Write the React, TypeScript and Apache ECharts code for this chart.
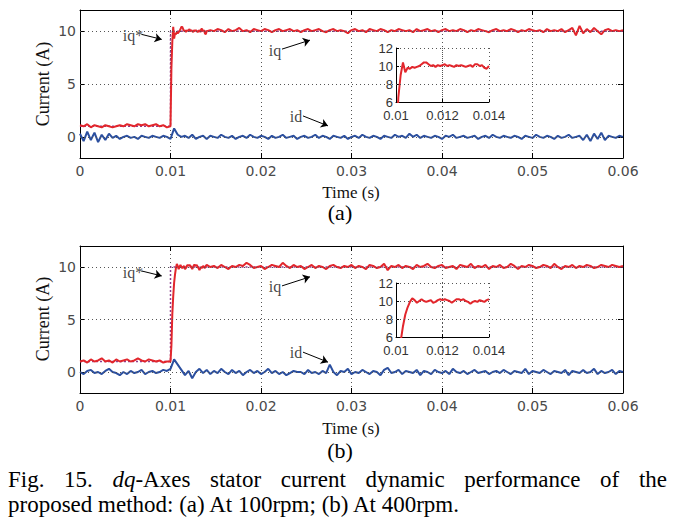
import React, { useEffect, useRef } from 'react';
import * as echarts from 'echarts';

// ---------- data ----------
const STEP = 0.0004;        // main sampling step (s)
const ZOOM_STEP = 0.0001;   // sampling step in the transient window (s)
const STEP_TIME = 0.01;     // time of the reference step
const POST_START = 36;      // index (in STEP units) where coarse samples resume (0.0144 s)

const yTicksMain = [0, 5, 10];

// reference iq* (step)
const refTimes = [0, 0.01, 0.01, 0.06];
const refValuesA = [1, 1, 10, 10];
const refValuesB = [1, 1, 10, 10];

// ---- (a) 100 rpm ----
const iqA_pre = [1.1, 1.0, 1.2, 0.9, 1.1, 1.0, 0.9, 1.1, 1.0, 0.9, 1.0, 1.1, 1.0, 1.2, 1.1, 1.0, 1.2, 1.1, 1.2, 1.0, 1.1, 1.2, 1.0, 1.1, 0.9];
const iqA_zoom = [1.0, 6.5, 9.0, 10.4, 9.3, 9.8, 9.7, 9.9, 9.8, 9.9,
  10.0, 10.2, 10.4, 10.4, 10.2, 10.0, 10.1, 9.9, 10.1, 10.0,
  10.1, 10.2, 10.0, 10.1, 10.0, 9.9, 10.1, 10.0, 10.1, 10.0,
  9.9, 10.0, 10.1, 9.9, 10.2, 10.2, 10.0, 10.1, 9.8, 9.7, 10.0];
const iqA_post = [
  10.1, 10.0, 10.2, 10.1, 9.9, 10.2, 10.0, 10.1, 10.3, 10.0,
  10.1, 9.9, 10.2, 10.1, 10.0, 10.2, 10.1, 9.9, 10.1, 10.2,
  10.0, 10.1, 10.2, 10.0, 10.1, 9.9, 10.1, 10.2, 10.0, 10.1,
  10.2, 10.0, 9.9, 10.1, 10.2, 10.0, 10.1, 10.0, 9.8, 10.1,
  10.2, 10.0, 10.1, 9.9, 10.2, 10.1, 10.0, 10.2, 10.1, 9.9,
  10.1, 10.0, 10.2, 10.1, 10.0, 10.1, 9.9, 10.2, 10.0, 10.1,
  10.2, 10.0, 10.1, 9.9, 10.1, 10.2, 10.0, 10.1, 10.0, 10.2,
  10.1, 9.9, 10.1, 10.0, 10.2, 10.1, 10.0, 9.9, 10.1, 10.2,
  10.0, 10.1, 10.0, 10.2, 10.1, 9.9, 10.1, 10.0, 10.2, 10.1,
  10.0, 10.1, 9.9, 10.2, 10.0, 10.1, 10.0, 10.2, 9.9, 10.1,
  10.3, 9.6, 10.5, 9.8, 10.2, 9.9, 10.3, 10.0, 9.7, 10.1,
  10.2, 10.0, 10.1, 10.0, 10.1];
const idA = [
  0.3, -0.4, 0.5, -0.3, 0.4, -0.5, 0.2, -0.3, 0.3,
  -0.1, 0.1, -0.2, 0.0, 0.1, -0.1, 0.0, -0.2, 0.1, 0.0, -0.1, 0.1, 0.0, -0.1, 0.1, 0.0,
  -0.2, 0.8, 0.2, 0.0,
  0.1, -0.1, 0.2, -0.2, 0.0, 0.1, -0.2, 0.1, 0.0, -0.1,
  0.2, 0.0, -0.1, 0.1, -0.2, 0.0, 0.1, -0.1, 0.2, 0.0,
  -0.1, 0.1, 0.0, -0.2, 0.1, -0.1, 0.0, 0.2, -0.1, 0.0,
  0.1, -0.2, 0.0, 0.1, -0.1, 0.0, 0.2, -0.1, 0.1, 0.0,
  -0.2, 0.1, 0.0, -0.1, 0.1, -0.2, 0.0, 0.1, -0.1, 0.2,
  0.0, -0.1, 0.1, 0.0, -0.2, 0.1, 0.0, -0.1, 0.2, 0.0,
  0.1, -0.1, 0.3, 0.0, 0.2, -0.1, 0.1, 0.0, -0.1, 0.1,
  0.0, -0.2, 0.1, 0.0, 0.2, -0.1, 0.0, 0.1, -0.1, 0.0,
  0.1, -0.2, 0.0, 0.1, -0.1, 0.2, 0.0, -0.1, 0.1, 0.0,
  -0.1, 0.1, 0.0, -0.2, 0.1, 0.0, -0.1, 0.2, 0.0, -0.1,
  0.1, 0.0, -0.2, 0.1, -0.1, 0.0, 0.2, -0.1, 0.0, 0.1,
  -0.3, 0.2, -0.4, 0.3, -0.2, 0.4, -0.3, 0.1, 0.0, -0.1,
  0.1, 0.0];

// ---- (b) 400 rpm ----
const iqB_pre = [1.0, 1.1, 0.9, 1.2, 1.0, 1.1, 1.3, 1.0, 1.1, 0.9, 1.2, 1.0, 1.1, 1.2, 1.0, 1.1, 1.3, 1.1, 1.0, 1.2, 1.1, 1.0, 1.1, 0.9, 1.0];
const iqB_zoom = [1.0, 2.5, 5.5, 7.2, 8.5, 9.3, 9.9, 10.3, 10.1, 9.8,
  10.0, 10.2, 10.0, 9.9, 10.0, 10.1, 9.8, 9.9, 10.1, 10.2,
  10.1, 10.2, 10.1, 10.0, 9.8, 10.0, 10.2, 10.2, 10.1, 10.2,
  10.0, 9.9, 9.7, 9.9, 10.0, 9.9, 10.1, 10.0, 9.9, 10.1, 10.2];
const iqB_post = [
  10.0, 10.1, 9.9, 10.2, 10.0, 9.8, 10.1, 10.0, 10.2, 10.1,
  10.4, 10.2, 9.9, 10.0, 10.1, 9.8, 10.0, 10.2, 10.1, 10.0,
  10.4, 10.1, 9.9, 10.2, 10.0, 10.1, 9.8, 10.0, 10.2, 9.9,
  10.1, 10.0, 9.8, 10.1, 10.2, 10.0, 9.9, 10.1, 10.0, 10.2,
  9.9, 10.1, 10.0, 9.8, 10.2, 10.1, 9.9, 10.0, 10.3, 9.7,
  10.1, 10.0, 10.2, 9.9, 10.1, 10.0, 9.8, 10.2, 10.0, 10.1,
  10.3, 10.0, 9.9, 10.1, 10.2, 9.9, 10.0, 10.1, 9.8, 10.2,
  10.1, 10.0, 10.3, 9.9, 10.1, 10.0, 10.2, 9.8, 10.1, 10.0,
  10.2, 9.9, 10.0, 10.3, 10.1, 9.8, 10.1, 10.0, 10.2, 10.1,
  9.9, 10.0, 10.2, 10.1, 9.9, 10.3, 10.0, 9.8, 10.1, 10.0,
  10.2, 9.9, 10.1, 10.0, 10.2, 10.1, 9.9, 10.0, 10.2, 10.1,
  10.0, 10.2, 10.1, 10.0, 10.1];
const idB = [
  0.0, -0.2, 0.1, 0.2, -0.1, 0.0, -0.2, 0.1, 0.3, 0.0, -0.1, -0.3, 0.0, -0.2, 0.1, -0.1, 0.0, 0.2, -0.2, 0.0, 0.1, -0.1, 0.0, 0.2, 0.1,
  0.3, 1.2, 0.7, 0.2,
  -0.3, 0.1, -0.6, 0.0, 0.3, -0.1, 0.2, -0.2, 0.1, -0.1,
  0.3, 0.0, -0.2, 0.2, -0.1, 0.1, -0.3, 0.0, 0.2, -0.1,
  0.1, -0.2, 0.0, 0.3, -0.1, 0.1, -0.2, 0.0, -0.3, -0.1,
  0.1, 0.0, 0.0, -0.2, 0.2, -0.1, 0.0, -0.2, 0.1, -0.1,
  0.7, 0.0, -0.3, 0.1, 0.0, 0.3, -0.2, 0.0, -0.1, 0.2,
  0.0, -0.2, 0.1, 0.0, -0.3, 0.2, 0.4, -0.1, 0.0, 0.2,
  -0.2, 0.1, 0.0, -0.1, 0.2, -0.3, 0.1, 0.0, -0.2, 0.2,
  0.0, -0.1, 0.1, -0.2, 0.3, 0.0, -0.1, 0.1, -0.2, 0.0,
  0.2, -0.1, 0.0, 0.1, -0.2, 0.0, 0.1, -0.1, 0.2, 0.0,
  -0.2, 0.1, 0.0, -0.1, 0.3, -0.2, 0.1, 0.0, -0.1, 0.2,
  0.0, -0.2, 0.1, 0.0, -0.1, 0.2, -0.3, 0.1, 0.0, -0.1,
  0.2, -0.1, 0.0, 0.3, -0.2, 0.1, -0.1, 0.0, 0.2, -0.2,
  0.1, 0.0];

// annotations (data coordinates)
const annNames = ['iq*', 'iq', 'id'];
const annTextA = [[0.00586, 9.62], [0.02155, 8.21], [0.02387, 1.89]];
const annFromA = [[0.00682, 9.69], [0.02232, 8.30], [0.02464, 1.98]];
const annToA = [[0.00903, 9.22], [0.02541, 9.15], [0.0274, 1.04]];
const annTextB = [[0.00586, 9.43], [0.02155, 8.11], [0.02387, 1.89]];
const annFromB = [[0.00682, 9.62], [0.02232, 8.20], [0.02464, 1.89]];
const annToB = [[0.00903, 9.15], [0.02541, 9.06], [0.0274, 0.94]];

const xName = 'Time (s)';
const yName = 'Current (A)';
const captionLine1 = [['', 'Fig.'], ['', '15.'], ['dq', '-Axes'], ['', 'stator'], ['', 'current'], ['', 'dynamic'], ['', 'performance'], ['', 'of'], ['', 'the']];
const captionLine2 = 'proposed method: (a) At 100rpm; (b) At 400rpm.';

// ---------- styles ----------
const RED = '#e2262c';
const BLUE = '#2b4f9f';
const REF = '#8e3c8e';
const GRID_LINE = { color: '#555', type: [1, 3] as any, width: 1 };
const TICK_FONT = 'DejaVu Sans';
const NAME_FONT = 'Liberation Serif';
const CAP_FONT = 'Liberation Serif';
const CAP_SIZE = 23;

const r5 = (v: number) => +v.toFixed(5);
const fmtNum = (v: number) => String(parseFloat(Number(v).toFixed(4)));

function buildIq(pre: number[], zoom: number[], post: number[]) {
  const pts: number[][] = [];
  pre.forEach((v, i) => pts.push([r5(i * STEP), v]));
  zoom.forEach((v, i) => pts.push([r5(STEP_TIME + i * ZOOM_STEP), v]));
  post.forEach((v, i) => pts.push([r5((POST_START + i) * STEP), v]));
  return pts;
}
const buildId = (vals: number[]) => vals.map((v, i) => [r5(i * STEP), v]);
const buildZoom = (vals: number[]) => vals.map((v, i) => [r5(STEP_TIME + i * ZOOM_STEP), v]);
const buildRef = (vals: number[]) => vals.map((v, i) => [refTimes[i], v]);

function mainAxes(grid: number) {
  const x = [
    {
      type: 'value', gridIndex: grid, min: 0, max: 0.06, interval: 0.01, position: 'bottom',
      axisLine: { show: true, onZero: false, lineStyle: { color: '#000', width: 1 } },
      axisTick: { show: true, inside: true, length: 5, lineStyle: { color: '#000' } },
      axisLabel: { margin: 6, color: '#4a4a4a', fontFamily: TICK_FONT, fontSize: 14, formatter: (v: number) => fmtNum(v) },
      splitLine: { show: true, lineStyle: GRID_LINE },
    },
    {
      type: 'value', gridIndex: grid, min: 0, max: 0.06, interval: 0.01, position: 'top',
      axisLine: { show: true, onZero: false, lineStyle: { color: '#000', width: 1 } },
      axisTick: { show: true, inside: true, length: 5, lineStyle: { color: '#000' } },
      axisLabel: { show: false }, splitLine: { show: false },
    },
  ];
  const y = [
    {
      type: 'value', gridIndex: grid, min: -2, max: 12, position: 'left',
      axisLine: { show: true, onZero: false, lineStyle: { color: '#000', width: 1 } },
      axisTick: { show: true, inside: true, length: 5, customValues: yTicksMain, lineStyle: { color: '#000' } },
      axisLabel: { customValues: yTicksMain, margin: 4, color: '#4a4a4a', fontFamily: TICK_FONT, fontSize: 14 },
      splitLine: { show: false },
    },
    {
      type: 'value', gridIndex: grid, min: -2, max: 12, position: 'right',
      axisLine: { show: true, onZero: false, lineStyle: { color: '#000', width: 1 } },
      axisTick: { show: true, inside: true, length: 5, customValues: yTicksMain, lineStyle: { color: '#000' } },
      axisLabel: { show: false }, splitLine: { show: false },
    },
  ];
  return { x, y };
}

function insetAxes(grid: number) {
  const x = {
    type: 'value', gridIndex: grid, min: 0.01, max: 0.014, interval: 0.002,
    axisLine: { show: true, onZero: false, lineStyle: { color: '#000', width: 1 } },
    axisTick: { show: true, inside: true, length: 3, lineStyle: { color: '#000' } },
    axisLabel: { margin: 8, color: '#333', fontFamily: 'Liberation Sans', fontSize: 13, lineHeight: 11, formatter: (v: number) => fmtNum(v) },
    splitLine: { show: true, lineStyle: GRID_LINE },
  };
  const y = {
    type: 'value', gridIndex: grid, min: 6, max: 12, interval: 2,
    axisLine: { show: true, onZero: false, lineStyle: { color: '#000', width: 1 } },
    axisTick: { show: true, inside: true, length: 3, lineStyle: { color: '#000' } },
    axisLabel: { margin: 3, color: '#333', fontFamily: 'Liberation Sans', fontSize: 13, lineHeight: 10 },
    splitLine: { show: true, lineStyle: GRID_LINE },
  };
  return { x, y };
}

function panelSeries(xi: number, yi: number, xInset: number, yInset: number,
  ref: number[], pre: number[], zoom: number[], post: number[], id: number[],
  annText: number[][], annFrom: number[][], annTo: number[][]) {
  return [
    {
      type: 'line', xAxisIndex: xi, yAxisIndex: yi, data: buildRef(ref), symbol: 'none', z: 1,
      lineStyle: { color: REF, width: 1.5, type: [2, 2] }, silent: true,
      markLine: {
        silent: true, symbol: ['none', 'none'], label: { show: false }, lineStyle: GRID_LINE,
        data: yTicksMain.map((v) => ({ yAxis: v })),
      },
    },
    {
      type: 'line', xAxisIndex: xi, yAxisIndex: yi, data: buildId(id), symbol: 'none', z: 2,
      lineStyle: { color: BLUE, width: 2 }, silent: true,
    },
    {
      type: 'line', xAxisIndex: xi, yAxisIndex: yi, data: buildIq(pre, zoom, post), symbol: 'none', z: 3,
      lineStyle: { color: RED, width: 2 }, silent: true,
      markLine: {
        silent: true, symbol: ['none', 'arrow'], symbolSize: 7, label: { show: false },
        lineStyle: { color: '#000', width: 1, type: 'solid' },
        data: annFrom.map((f, i) => [{ coord: f }, { coord: annTo[i] }]),
      },
    },
    {
      type: 'scatter', xAxisIndex: xi, yAxisIndex: yi, symbolSize: 1, z: 4, silent: true,
      itemStyle: { color: 'rgba(0,0,0,0)' },
      label: { show: true, position: 'inside', formatter: '{b}', fontFamily: NAME_FONT, fontSize: 16, color: '#111' },
      data: annText.map((p, i) => ({ name: annNames[i], value: p })),
    },
    {
      type: 'line', xAxisIndex: xInset, yAxisIndex: yInset, data: buildZoom(zoom), symbol: 'none', z: 3,
      lineStyle: { color: RED, width: 2 }, silent: true, clip: true,
    },
  ];
}

function textGraphics() {
  const ctx = document.createElement('canvas').getContext('2d')!;
  const measure = (s: string, italic: boolean) => {
    ctx.font = `${italic ? 'italic ' : ''}${CAP_SIZE}px "${CAP_FONT}"`;
    return ctx.measureText(s).width;
  };
  const left = 8, right = 667;
  const widths = captionLine1.map(([it, rest]) => measure(it, true) + measure(rest, false));
  const total = widths.reduce((a, b) => a + b, 0);
  const gap = (right - left - total) / (captionLine1.length - 1);
  const els: any[] = [];
  let x = left;
  captionLine1.forEach(([it, rest], i) => {
    els.push({
      type: 'text', x, y: 479,
      style: {
        text: it ? `{it|${it}}${rest}` : rest,
        fontFamily: CAP_FONT, fontSize: CAP_SIZE, fill: '#000', verticalAlign: 'middle', align: 'left',
        rich: { it: { fontStyle: 'italic', fontFamily: CAP_FONT, fontSize: CAP_SIZE, fill: '#000' } },
      },
    });
    x += widths[i] + gap;
  });
  els.push({
    type: 'text', x: left, y: 504,
    style: { text: captionLine2, fontFamily: CAP_FONT, fontSize: CAP_SIZE, fill: '#000', verticalAlign: 'middle', align: 'left' },
  });
  els.push({ type: 'text', x: 340, y: 212, style: { text: '(a)', fontFamily: CAP_FONT, fontSize: 22, fill: '#000', align: 'center', verticalAlign: 'middle' } });
  els.push({ type: 'text', x: 340, y: 450, style: { text: '(b)', fontFamily: CAP_FONT, fontSize: 22, fill: '#000', align: 'center', verticalAlign: 'middle' } });
  // axis titles
  [[192, 84], [428, 319]].forEach(([xy, yy]) => {
    els.push({ type: 'text', x: 351, y: xy, style: { text: xName, fontFamily: NAME_FONT, fontSize: 17, fill: '#111', align: 'center', verticalAlign: 'middle' } });
    els.push({ type: 'text', x: 43, y: yy, rotation: Math.PI / 2, style: { text: yName, fontFamily: NAME_FONT, fontSize: 18, fill: '#111', align: 'center', verticalAlign: 'middle' } });
  });
  return els;
}

export default function App() {
  const ref = useRef<HTMLDivElement>(null);
  useEffect(() => {
    if (!ref.current) return;
    const chart = echarts.init(ref.current, undefined, { renderer: 'svg' });
    const ma = mainAxes(0), ia = insetAxes(1), mb = mainAxes(2), ib = insetAxes(3);
    const option: any = {
      animation: false,
      backgroundColor: '#fff',
      grid: [
        { left: 80, top: 10, width: 543, height: 148, outerBoundsMode: 'none' },
        { left: 396, top: 48, width: 93, height: 54, outerBoundsMode: 'none' },
        { left: 80, top: 246, width: 543, height: 147, outerBoundsMode: 'none' },
        { left: 396, top: 283, width: 93, height: 54, outerBoundsMode: 'none' },
      ],
      xAxis: [ma.x[0], ma.x[1], ia.x, mb.x[0], mb.x[1], ib.x],
      yAxis: [ma.y[0], ma.y[1], ia.y, mb.y[0], mb.y[1], ib.y],
      series: [
        ...panelSeries(0, 0, 2, 2, refValuesA, iqA_pre, iqA_zoom, iqA_post, idA, annTextA, annFromA, annToA),
        ...panelSeries(3, 3, 5, 5, refValuesB, iqB_pre, iqB_zoom, iqB_post, idB, annTextB, annFromB, annToB),
      ],
      graphic: textGraphics(),
    };
    chart.setOption(option);
    return () => chart.dispose();
  }, []);
  return (
    <div ref={ref} style={{ position: 'absolute', left: 0, top: 0, width: 685, height: 528, background: '#fff' }} />
  );
}
